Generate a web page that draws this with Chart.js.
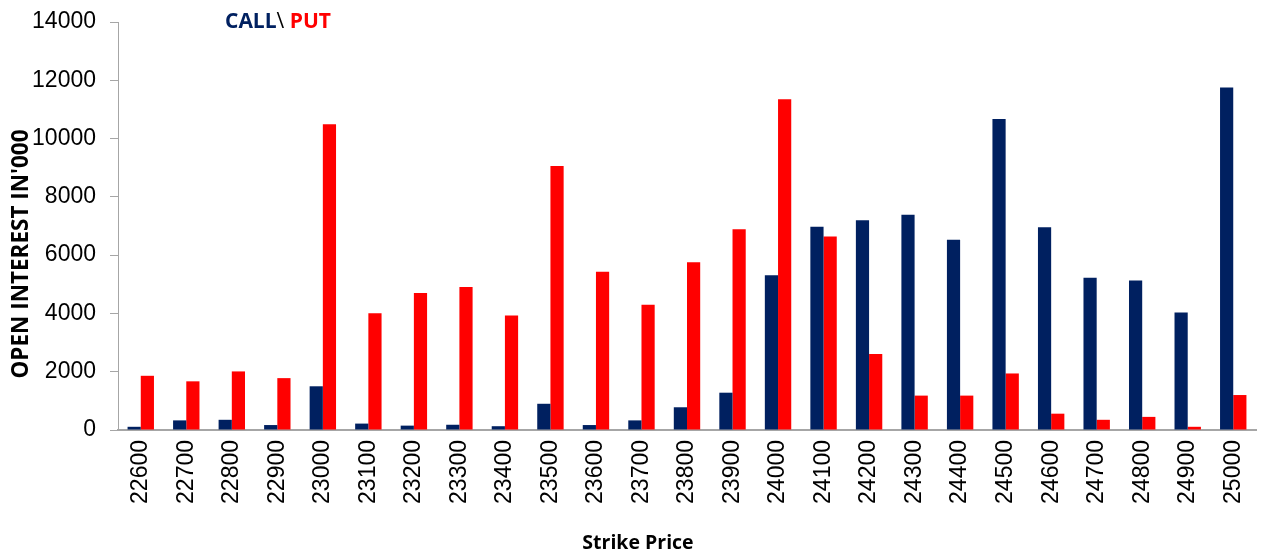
<!DOCTYPE html>
<html>
<head>
<meta charset="utf-8">
<script src="https://cdn.jsdelivr.net/npm/chart.js@4"></script>
<style>
  html, body { margin: 0; padding: 0; background: #fff; }
  .wrap { width: 1262px; height: 554px; }
</style>
</head>
<body>
<div class="wrap"><canvas class="oi-chart" width="1262" height="554"></canvas></div>
<script>
const strikes = ["22600", "22700", "22800", "22900", "23000", "23100", "23200", "23300", "23400", "23500",
  "23600", "23700", "23800", "23900", "24000", "24100", "24200", "24300", "24400", "24500",
  "24600", "24700", "24800", "24900", "25000"];
const callOI = [110, 330, 350, 170, 1500, 220, 150, 180, 130, 900,
  170, 330, 780, 1280, 5310, 6970, 7200, 7390, 6530, 10670,
  6960, 5220, 5130, 4030, 11750];
const putOI = [1860, 1670, 2010, 1780, 10490, 4010, 4700, 4910, 3930, 9060,
  5430, 4300, 5760, 6890, 11350, 6640, 2610, 1180, 1180, 1940,
  560, 350, 450, 110, 1200];
const yTicks = [0, 2000, 4000, 6000, 8000, 10000, 12000, 14000];

const navy = "#002060";
const red = "#FF0000";
const axisGrey = "#A6A6A6";

// titles drawn by hand so they sit where the original puts them
const titlesPlugin = {
  id: "titles",
  afterDraw(chart) {
    const c = chart.ctx;
    c.save();
    c.textBaseline = "middle";
    c.font = "bold 21px 'Open Sans'";
    c.textAlign = "left";
    let x = 225;
    c.fillStyle = navy;
    c.fillText("CALL", x, 22);
    x += c.measureText("CALL").width;
    c.font = "21px 'Open Sans'";
    c.fillStyle = "#000";
    c.fillText("\\ ", x, 22);
    x += c.measureText("\\ ").width;
    c.font = "bold 21px 'Open Sans'";
    c.fillStyle = red;
    c.fillText("PUT", x, 22);

    c.fillStyle = "#000";
    c.textAlign = "center";
    c.font = "bold 19.5px 'Open Sans'";
    c.fillText("Strike Price", 638, 543);

    c.translate(22, 254);
    c.rotate(-Math.PI / 2);
    c.font = "bold 22.5px 'Open Sans'";
    c.fillText("OPEN INTEREST IN'000", 0, 0);
    c.restore();
  }
};

var ctx = document.querySelector(".oi-chart");
new Chart(ctx, {
  type: "bar",
  plugins: [titlesPlugin],
  options: {
    responsive: false,
    animation: false,
    layout: { padding: { top: 22, right: 6, left: 0, bottom: 0 } },
    plugins: {
      legend: { display: false },
      tooltip: { enabled: false },
    },
    scales: {
      x: {
        afterFit: s => { s.height = 124; s.paddingLeft = 0; s.paddingRight = 0; },
        grid: { display: false, drawTicks: false },
        border: { display: true, color: axisGrey, width: 2 },
        ticks: {
          minRotation: 90,
          maxRotation: 90,
          padding: 10,
          color: "#000",
          font: { family: "Liberation Sans", size: 23 },
        },
      },
      y: {
        min: 0,
        max: 14000,
        afterFit: s => { s.width = 118; s.paddingTop = 0; s.paddingBottom = 0; },
        afterBuildTicks: s => { s.ticks = yTicks.map(v => ({ value: v })); },
        grid: { drawOnChartArea: false, tickLength: 8, color: axisGrey, lineWidth: 1 },
        border: { display: true, color: axisGrey, width: 1 },
        ticks: {
          padding: 14,
          color: "#000",
          font: { family: "Liberation Sans", size: 23 },
          callback: v => String(v),
        },
      },
    },
  },
  data: {
    labels: strikes,
    datasets: [
      {
        label: "CALL",
        backgroundColor: navy,
        data: callOI,
        categoryPercentage: 0.58,
        barPercentage: 1.0,
      },
      {
        label: "PUT",
        backgroundColor: red,
        data: putOI,
        categoryPercentage: 0.58,
        barPercentage: 1.0,
      },
    ],
  },
});
</script>
</body>
</html>
